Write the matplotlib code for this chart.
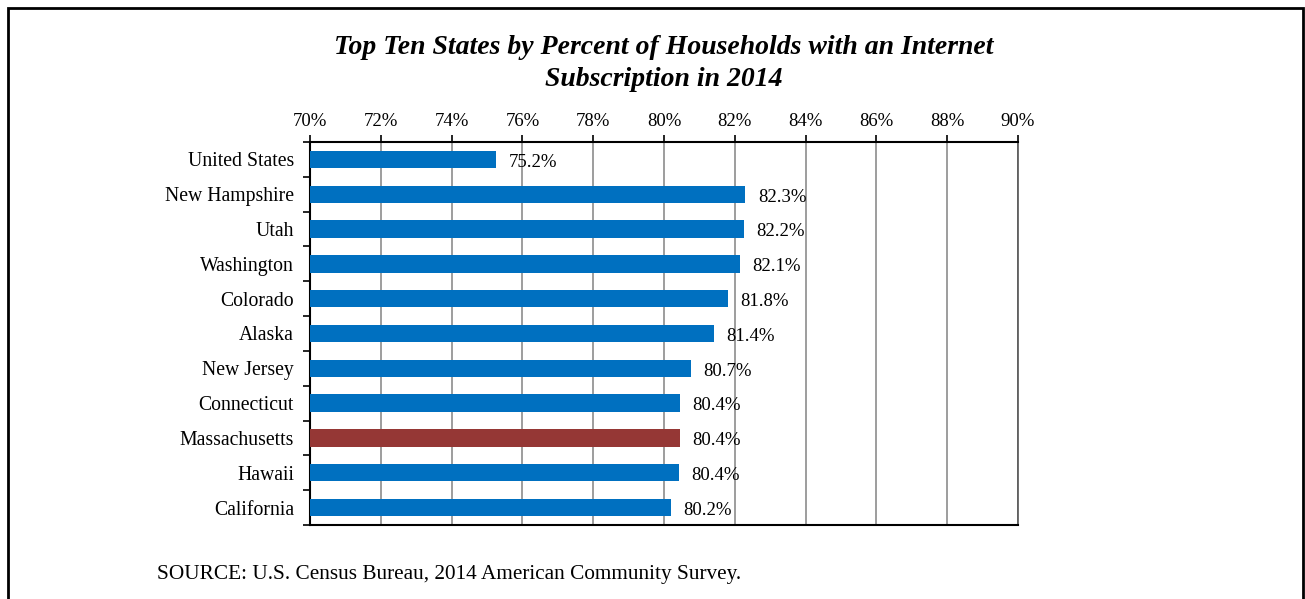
import matplotlib.pyplot as plt
from matplotlib.patches import Rectangle
from matplotlib.ticker import FuncFormatter

states = ['United States', 'New Hampshire', 'Utah', 'Washington', 'Colorado',
          'Alaska', 'New Jersey', 'Connecticut', 'Massachusetts', 'Hawaii',
          'California']
values = [75.25, 82.3, 82.25, 82.15, 81.8, 81.4, 80.75, 80.45, 80.45, 80.42, 80.2]
labels = ['75.2%', '82.3%', '82.2%', '82.1%', '81.8%', '81.4%', '80.7%',
          '80.4%', '80.4%', '80.4%', '80.2%']
highlight = 'Massachusetts'

plt.rcParams['font.family'] = ['Liberation Serif', 'DejaVu Serif']

fig = plt.figure(figsize=(13.05, 5.99), dpi=100)
ax = fig.add_axes([310 / 1305, 1 - 525 / 599, (1018 - 310) / 1305, (525 - 142) / 599])

colors = ['#953735' if s == highlight else '#0070C0' for s in states]
ypos = list(range(len(states)))
ax.barh(ypos, values, height=0.5, left=0, color=colors, zorder=3)
ax.set_xlim(70, 90)
ax.set_ylim(len(states) - 0.5, -0.5)

for y, v, lab in zip(ypos, values, labels):
    ax.annotate(lab, (v, y), xytext=(9, -2), textcoords='offset points',
                va='center', ha='left', fontsize=13.5, zorder=4)

ax.xaxis.tick_top()
ax.set_xticks(range(70, 91, 2))
ax.xaxis.set_major_formatter(FuncFormatter(lambda x, p: f'{int(x)}%'))
ax.tick_params(axis='x', length=5, width=1.2, labelsize=13.5, pad=4, direction='out')
ax.grid(axis='x', color='#8c8c8c', linewidth=1.2, zorder=1)

ax.set_yticks(ypos)
ax.set_yticklabels(states, fontsize=14.2)
ax.set_yticks([i + 0.5 for i in range(-1, len(states))], minor=True)
ax.tick_params(axis='y', which='major', length=0, pad=11.5)
ax.tick_params(axis='y', which='minor', length=5, width=1.2)

for side in ['top', 'bottom', 'left']:
    ax.spines[side].set_linewidth(1.5)
ax.spines['right'].set_linewidth(1.2)
ax.spines['right'].set_color('#555555')

title_kw = dict(ha='center', va='center', fontsize=20, fontweight='bold', fontstyle='italic')
fig.text(664 / 1305, 1 - 47 / 599,
         'Top Ten States by Percent of Households with an Internet', **title_kw)
fig.text(664 / 1305, 1 - 79 / 599, 'Subscription in 2014', **title_kw)
fig.text(157 / 1305, 1 - 575 / 599,
         'SOURCE: U.S. Census Bureau, 2014 American Community Survey.',
         ha='left', va='center', fontsize=15.3)

fig.patches.append(Rectangle((8 / 1305, -0.05), (1303 - 8) / 1305, 1.05 - 8 / 599,
                             transform=fig.transFigure, fill=False,
                             edgecolor='black', linewidth=2))

fig.savefig('out.png', dpi=100)
